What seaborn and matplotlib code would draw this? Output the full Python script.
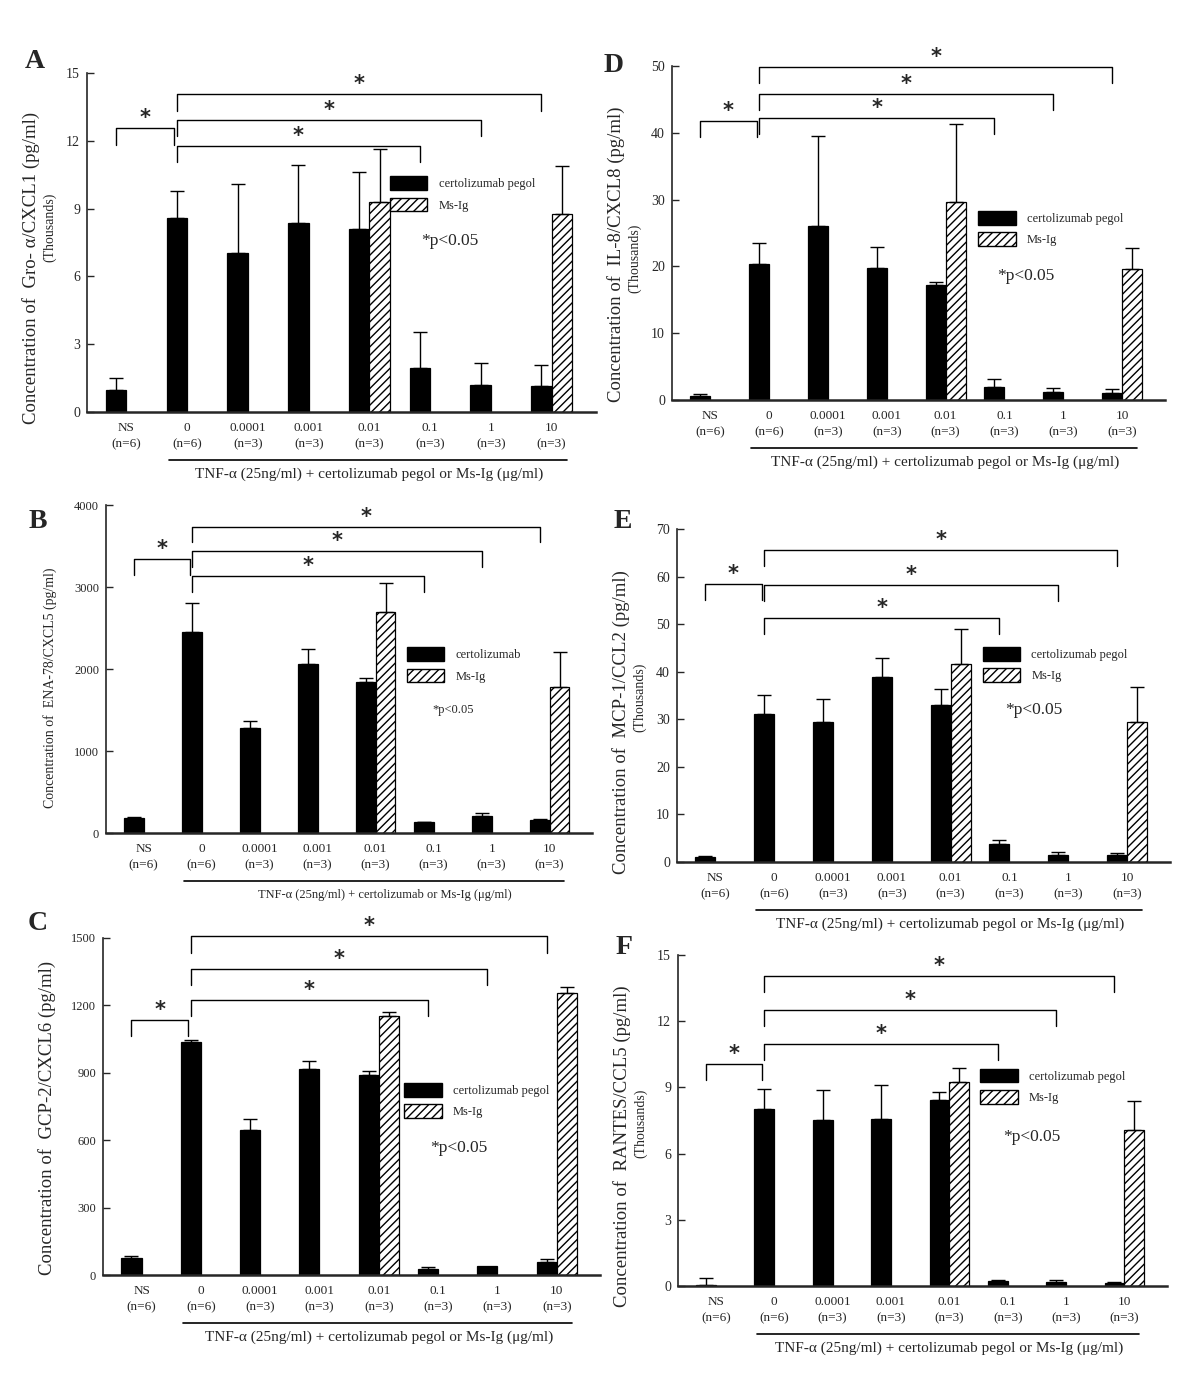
import numpy as np
import pandas as pd
import matplotlib
matplotlib.use("Agg")
import matplotlib.pyplot as plt
import seaborn as sns
from matplotlib.patches import Patch
from matplotlib.transforms import offset_copy

nan = np.nan

doses = ['NS', '0', '0.0001', '0.001', '0.01', '0.1', '1', '10']
n_labels = ['(n=6)', '(n=6)', '(n=3)', '(n=3)', '(n=3)', '(n=3)', '(n=3)', '(n=3)']
groups = ['certolizumab pegol', 'Ms-Ig']

# A: Gro-a/CXCL1 (thousands pg/ml)
gro_certo = [0.96, 8.57, 7.05, 8.37, 8.11, 1.94, 1.18, 1.13]
gro_certo_se = [0.54, 1.22, 3.02, 2.57, 2.51, 1.61, 1.01, 0.93]
gro_msig = [nan, nan, nan, nan, 9.29, nan, nan, 8.78]
gro_msig_se = [nan, nan, nan, nan, 2.34, nan, nan, 2.12]
gro_sig = [12.55, 11.78, 12.92, 14.05]

# B: ENA-78/CXCL5 (pg/ml)
ena_certo = [186, 2449, 1275, 2057, 1838, 130, 202, 162]
ena_certo_se = [8, 361, 89, 186, 57, 8, 41, 12]
ena_msig = [nan, nan, nan, nan, 2700, nan, nan, 1781]
ena_msig_se = [nan, nan, nan, nan, 345, nan, nan, 425]
ena_sig = [3336, 3130, 3437, 3737]

# C: GCP-2/CXCL6 (pg/ml)
gcp_certo = [77, 1037, 646, 917, 892, 25, 40, 58]
gcp_certo_se = [7, 9, 50, 36, 18, 10, 0, 11]
gcp_msig = [nan, nan, nan, nan, 1152, nan, nan, 1254]
gcp_msig_se = [nan, nan, nan, nan, 18, nan, nan, 28]
gcp_sig = [1136, 1225, 1362, 1507]

# D: IL-8/CXCL8 (thousands pg/ml)
il8_certo = [0.65, 20.4, 26.1, 19.8, 17.2, 1.9, 1.15, 1.1]
il8_certo_se = [0.3, 3.1, 13.4, 3.1, 0.45, 1.3, 0.6, 0.6]
il8_msig = [nan, nan, nan, nan, 29.6, nan, nan, 19.6]
il8_msig_se = [nan, nan, nan, nan, 11.7, nan, nan, 3.2]
il8_sig = [41.8, 42.2, 45.8, 49.8]

# E: MCP-1/CCL2 (thousands pg/ml)
mcp_certo = [0.98, 31.15, 29.5, 38.85, 33.0, 3.85, 1.54, 1.4]
mcp_certo_se = [0.35, 3.95, 4.8, 4.05, 3.4, 0.75, 0.63, 0.42]
mcp_msig = [nan, nan, nan, nan, 41.6, nan, nan, 29.4]
mcp_msig_se = [nan, nan, nan, nan, 7.4, nan, nan, 7.4]
mcp_sig = [58.4, 51.2, 58.2, 65.6]

# F: RANTES/CCL5 (thousands pg/ml)
rantes_certo = [0.04, 8.0, 7.52, 7.56, 8.45, 0.21, 0.18, 0.15]
rantes_certo_se = [0.3, 0.94, 1.36, 1.53, 0.35, 0.05, 0.08, 0.03]
rantes_msig = [nan, nan, nan, nan, 9.25, nan, nan, 7.06]
rantes_msig_se = [nan, nan, nan, nan, 0.61, nan, nan, 1.33]
rantes_sig = [10.04, 10.96, 12.5, 14.05]

# bracket pairs: NS vs 0, 0 vs 0.1, 0 vs 1, 0 vs 10
sig_pairs = [(0, 1), (1, 5), (1, 6), (1, 7)]

sns.set_style('ticks')
plt.rcParams['font.family'] = ['Liberation Serif', 'DejaVu Serif']
plt.rcParams['hatch.linewidth'] = 1.0

W, H = 1200, 1393
fig = plt.figure(figsize=(W / 100, H / 100), dpi=100)


def px_axes(left, right, top, bottom):
    return fig.add_axes([left / W, 1 - bottom / H, (right - left) / W, (bottom - top) / H])


def draw_panel(ax, certo, certo_se, msig, msig_se, sig, ymax, ystep, ylabel, thousands,
               lab_dy, th_dy, legend_xy, legend_label, p_xy, small=False):
    df = pd.DataFrame({
        'dose': doses * 2,
        'group': [groups[0]] * 8 + [groups[1]] * 8,
        'value': list(certo) + list(msig),
    }).dropna()
    sns.barplot(data=df, x='dose', y='value', hue='group', order=doses, hue_order=groups,
                palette={groups[0]: 'black', groups[1]: 'white'}, width=0.68, dodge=True,
                errorbar=None, legend=False, saturation=1, edgecolor='black', linewidth=0.9, ax=ax)
    for bar in ax.containers[1]:
        bar.set_hatch('////')

    for cont, se in zip(ax.containers, [certo_se, msig_se]):
        for bar in cont:
            xc = bar.get_x() + bar.get_width() / 2
            i = int(round(xc))
            if np.isnan(bar.get_height()) or np.isnan(se[i]) or se[i] <= 0:
                continue
            ax.errorbar(xc, bar.get_height(), yerr=[[0], [se[i]]], fmt='none', ecolor='black',
                        elinewidth=1, capsize=5, capthick=1, zorder=1)

    ax.set_xlim(-0.65, 7.73)
    ax.set_ylim(0, ymax)
    ax.set_yticks(np.arange(0, ymax + ystep / 2, ystep))
    ax.set_xticks(range(len(doses)))
    ax.set_xticklabels([f'{d}\n{n}' for d, n in zip(doses, n_labels)], linespacing=1.5,
                       fontsize=9.5)
    ax.tick_params(axis='x', length=0, pad=7)
    ax.tick_params(axis='y', direction='in', length=5, width=1, pad=5,
                   labelsize=9 if small else 10)
    ax.set_xlabel('')
    ax.set_ylabel('')
    sns.despine(ax=ax)
    ax.spines['left'].set_linewidth(1.2)
    ax.spines['bottom'].set_linewidth(1.8)

    # significance brackets, legs at the black bar centres
    off = -0.68 / 4
    drop = 0.048 * ymax
    for (a, b), h in zip(sig_pairs, sig):
        x0 = a + off
        x1 = b + off - (0.04 if a == 0 else 0)
        ax.plot([x0, x0, x1, x1], [h - drop, h, h, h - drop], color='black', lw=1, clip_on=False)
        ax.text((x0 + x1) / 2, h, '*', ha='center', va='bottom', fontsize=15,
                fontweight='bold', family='DejaVu Sans', clip_on=False)

    # underline and treatment label
    under = offset_copy(ax.get_xaxis_transform(), fig=fig, y=-48, units='dots')
    ax.plot([0.7, 7.25], [0, 0], color='black', lw=1.2, transform=under, clip_on=False)
    lab = offset_copy(ax.get_xaxis_transform(), fig=fig, y=-62, units='dots')
    if small:
        ax.text(4.15, 0, 'TNF-α (25ng/ml) + certolizumab or Ms-Ig (μg/ml)', transform=lab,
                ha='center', va='center', fontsize=9)
    else:
        ax.text(4.0, 0, 'TNF-α (25ng/ml) + certolizumab pegol or Ms-Ig (μg/ml)', transform=lab,
                ha='center', va='center', fontsize=11)

    # y label
    tr = offset_copy(ax.transAxes, fig=fig, x=-56, y=-lab_dy, units='dots')
    ax.text(0, 0.5, ylabel, transform=tr, rotation=90, ha='center', va='center',
            fontsize=10 if small else 13.5)
    if thousands:
        tr2 = offset_copy(ax.transAxes, fig=fig, x=-37, y=-th_dy, units='dots')
        ax.text(0, 0.5, '(Thousands)', transform=tr2, rotation=90, ha='center', va='center',
                fontsize=10)

    handles = [Patch(facecolor='black', edgecolor='black'),
               Patch(facecolor='white', edgecolor='black', hatch='////')]
    ax.legend(handles, [legend_label, 'Ms-Ig'], loc='upper left', bbox_to_anchor=legend_xy,
              bbox_transform=ax.transAxes, frameon=False, borderpad=0, borderaxespad=0,
              handlelength=3.0, handleheight=1.3, handletextpad=0.9, labelspacing=0.6,
              fontsize=9)
    ax.text(p_xy[0], p_xy[1], '*p<0.05', transform=ax.transAxes, ha='left', va='center',
            fontsize=9 if small else 12.5)


ax_a = px_axes(87, 596, 73, 412)
draw_panel(ax_a, gro_certo, gro_certo_se, gro_msig, gro_msig_se, gro_sig, 15, 3,
           'Concentration of  Gro- α/CXCL1 (pg/ml)', True, 25, -15, (0.595, 0.696),
           'certolizumab pegol', (0.656, 0.505))

ax_b = px_axes(106, 592, 505, 833)
draw_panel(ax_b, ena_certo, ena_certo_se, ena_msig, ena_msig_se, ena_sig, 4000, 1000,
           'Concentration of  ENA-78/CXCL5 (pg/ml)', False, 19, 0, (0.619, 0.567),
           'certolizumab', (0.671, 0.375), small=True)

ax_c = px_axes(103, 600, 938, 1275)
draw_panel(ax_c, gcp_certo, gcp_certo_se, gcp_msig, gcp_msig_se, gcp_sig, 1500, 300,
           'Concentration of  GCP-2/CXCL6 (pg/ml)', False, 11, 0, (0.606, 0.570),
           'certolizumab pegol', (0.658, 0.377))
ax_c.tick_params(axis='y', labelsize=9)

ax_d = px_axes(672, 1165, 66, 400)
draw_panel(ax_d, il8_certo, il8_certo_se, il8_msig, il8_msig_se, il8_sig, 50, 10,
           'Concentration of  IL-8/CXCL8 (pg/ml)', True, 21, 25, (0.621, 0.566),
           'certolizumab pegol', (0.659, 0.371))

ax_e = px_axes(677, 1170, 529, 862)
draw_panel(ax_e, mcp_certo, mcp_certo_se, mcp_msig, mcp_msig_se, mcp_sig, 70, 10,
           'Concentration of  MCP-1/CCL2 (pg/ml)', True, 27, 2, (0.620, 0.646),
           'certolizumab pegol', (0.665, 0.456))

ax_f = px_axes(678, 1167, 955, 1286)
draw_panel(ax_f, rantes_certo, rantes_certo_se, rantes_msig, rantes_msig_se, rantes_sig, 15, 3,
           'Concentration of  RANTES/CCL5 (pg/ml)', True, 26, 3, (0.618, 0.656),
           'certolizumab pegol', (0.665, 0.45))

for letter, x, y in [('A', 35, 62), ('B', 38, 522), ('C', 38, 923),
                     ('D', 614, 65), ('E', 623, 522), ('F', 624, 947)]:
    fig.text(x / W, 1 - y / H, letter, fontsize=20, fontweight='bold', ha='center', va='center')

fig.savefig('out.png', dpi=100)
